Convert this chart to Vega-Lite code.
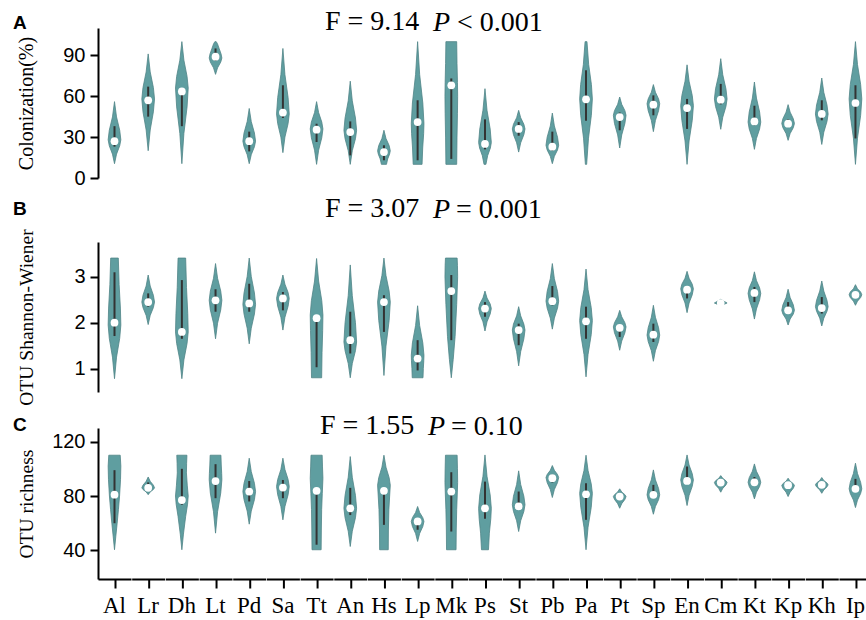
{
  "$schema": "https://vega.github.io/schema/vega-lite/v6.json",
  "padding": {"left": 13, "top": 8, "right": 0, "bottom": 0},
  "spacing": 6,
  "config": {
    "view": {"stroke": null},
    "axis": {"grid": false, "domainColor": "black", "domainWidth": 2, "tickColor": "black", "tickWidth": 2, "labelColor": "black", "titleColor": "black", "labelFont": "Liberation Sans", "labelFontSize": 20, "titleFont": "Liberation Serif", "titleFontSize": 20, "titleFontWeight": "normal"},
    "axisY": {"tickSize": 8, "labelPadding": 5},
    "axisX": {"tickSize": 9},
    "header": {"labelFont": "Liberation Serif", "labelFontSize": 23, "labelColor": "black"},
    "title": {"color": "black", "font": "Liberation Serif", "fontSize": 28, "fontWeight": "normal", "anchor": "start"}
  },
  "datasets": {
    "a": [
      {"s":"Al","v":10.5,"w":0},{"s":"Al","v":17.5,"w":0.32},{"s":"Al","v":23.6,"w":0.82},{"s":"Al","v":28,"w":1},{"s":"Al","v":35,"w":0.82},{"s":"Al","v":44.8,"w":0.32},{"s":"Al","v":56,"w":0},
      {"s":"Lr","v":20,"w":0},{"s":"Lr","v":35.2,"w":0.32},{"s":"Lr","v":48.5,"w":0.82},{"s":"Lr","v":58,"w":1},{"s":"Lr","v":66.3,"w":0.82},{"s":"Lr","v":77.8,"w":0.32},{"s":"Lr","v":91,"w":0},
      {"s":"Dh","v":10.5,"w":0},{"s":"Dh","v":32.7,"w":0.32},{"s":"Dh","v":52.1,"w":0.82},{"s":"Dh","v":66,"w":1},{"s":"Dh","v":74.5,"w":0.82},{"s":"Dh","v":86.4,"w":0.32},{"s":"Dh","v":100,"w":0},
      {"s":"Lt","v":76,"w":0},{"s":"Lt","v":80.8,"w":0.32},{"s":"Lt","v":85,"w":0.82},{"s":"Lt","v":88,"w":1},{"s":"Lt","v":91,"w":0.87},{"s":"Lt","v":95.2,"w":0.55},{"s":"Lt","v":98.5,"w":0.3},{"s":"Lt","v":100,"w":0.1},
      {"s":"Pd","v":10.5,"w":0},{"s":"Pd","v":17.1,"w":0.32},{"s":"Pd","v":22.9,"w":0.82},{"s":"Pd","v":27,"w":1},{"s":"Pd","v":33,"w":0.82},{"s":"Pd","v":41.4,"w":0.32},{"s":"Pd","v":51,"w":0},
      {"s":"Sa","v":18.6,"w":0},{"s":"Sa","v":30,"w":0.32},{"s":"Sa","v":39.9,"w":0.82},{"s":"Sa","v":47,"w":1},{"s":"Sa","v":59,"w":0.82},{"s":"Sa","v":75.8,"w":0.32},{"s":"Sa","v":95,"w":0},
      {"s":"Tt","v":10,"w":0},{"s":"Tt","v":20.4,"w":0.32},{"s":"Tt","v":29.5,"w":0.82},{"s":"Tt","v":36,"w":1},{"s":"Tt","v":41,"w":0.82},{"s":"Tt","v":48,"w":0.32},{"s":"Tt","v":56,"w":0},
      {"s":"An","v":10,"w":0},{"s":"An","v":20,"w":0.32},{"s":"An","v":28.8,"w":0.82},{"s":"An","v":35,"w":1},{"s":"An","v":44,"w":0.82},{"s":"An","v":56.6,"w":0.32},{"s":"An","v":71,"w":0},
      {"s":"Hs","v":10,"w":0.4},{"s":"Hs","v":14,"w":0.59},{"s":"Hs","v":17.5,"w":0.89},{"s":"Hs","v":20,"w":1},{"s":"Hs","v":23.8,"w":0.82},{"s":"Hs","v":29,"w":0.32},{"s":"Hs","v":35,"w":0},
      {"s":"Lp","v":10,"w":0.7},{"s":"Lp","v":22,"w":0.8},{"s":"Lp","v":32.5,"w":0.95},{"s":"Lp","v":40,"w":1},{"s":"Lp","v":55,"w":0.82},{"s":"Lp","v":76,"w":0.32},{"s":"Lp","v":100,"w":0},
      {"s":"Mk","v":10,"w":0.85},{"s":"Mk","v":30,"w":0.9},{"s":"Mk","v":47.5,"w":0.97},{"s":"Mk","v":60,"w":1},{"s":"Mk","v":70,"w":0.97},{"s":"Mk","v":84,"w":0.9},{"s":"Mk","v":100,"w":0.85},
      {"s":"Ps","v":10,"w":0.15},{"s":"Ps","v":16.4,"w":0.42},{"s":"Ps","v":22,"w":0.85},{"s":"Ps","v":26,"w":1},{"s":"Ps","v":35.9,"w":0.82},{"s":"Ps","v":49.7,"w":0.32},{"s":"Ps","v":65.5,"w":0},
      {"s":"St","v":19,"w":0},{"s":"St","v":25.8,"w":0.32},{"s":"St","v":31.8,"w":0.82},{"s":"St","v":36,"w":1},{"s":"St","v":39.4,"w":0.82},{"s":"St","v":44.2,"w":0.32},{"s":"St","v":49.6,"w":0},
      {"s":"Pb","v":10.5,"w":0},{"s":"Pb","v":15.9,"w":0.32},{"s":"Pb","v":20.6,"w":0.82},{"s":"Pb","v":24,"w":1},{"s":"Pb","v":29.9,"w":0.82},{"s":"Pb","v":38.2,"w":0.32},{"s":"Pb","v":47.6,"w":0},
      {"s":"Pa","v":10,"w":0.1},{"s":"Pa","v":29.2,"w":0.39},{"s":"Pa","v":46,"w":0.84},{"s":"Pa","v":58,"w":1},{"s":"Pa","v":68.5,"w":0.85},{"s":"Pa","v":83.2,"w":0.42},{"s":"Pa","v":100,"w":0.15},
      {"s":"Pt","v":22,"w":0},{"s":"Pt","v":31.6,"w":0.32},{"s":"Pt","v":40,"w":0.82},{"s":"Pt","v":46,"w":1},{"s":"Pt","v":49.4,"w":0.82},{"s":"Pt","v":54,"w":0.32},{"s":"Pt","v":59.4,"w":0},
      {"s":"Sp","v":34,"w":0},{"s":"Sp","v":42.2,"w":0.32},{"s":"Sp","v":49.4,"w":0.82},{"s":"Sp","v":54.5,"w":1},{"s":"Sp","v":58,"w":0.82},{"s":"Sp","v":62.9,"w":0.32},{"s":"Sp","v":68.5,"w":0},
      {"s":"En","v":10,"w":0},{"s":"En","v":27.2,"w":0.32},{"s":"En","v":42.3,"w":0.82},{"s":"En","v":53,"w":1},{"s":"En","v":60.5,"w":0.82},{"s":"En","v":71,"w":0.32},{"s":"En","v":83,"w":0},
      {"s":"Cm","v":35.7,"w":0},{"s":"Cm","v":44.6,"w":0.32},{"s":"Cm","v":52.4,"w":0.82},{"s":"Cm","v":58,"w":1},{"s":"Cm","v":65.4,"w":0.82},{"s":"Cm","v":75.7,"w":0.32},{"s":"Cm","v":87.5,"w":0},
      {"s":"Kt","v":21,"w":0},{"s":"Kt","v":29,"w":0.32},{"s":"Kt","v":36,"w":0.82},{"s":"Kt","v":41,"w":1},{"s":"Kt","v":48.4,"w":0.82},{"s":"Kt","v":58.6,"w":0.32},{"s":"Kt","v":70.4,"w":0},
      {"s":"Kp","v":27.6,"w":0},{"s":"Kp","v":32.6,"w":0.32},{"s":"Kp","v":36.9,"w":0.82},{"s":"Kp","v":40,"w":1},{"s":"Kp","v":43.5,"w":0.82},{"s":"Kp","v":48.3,"w":0.32},{"s":"Kp","v":53.8,"w":0},
      {"s":"Kh","v":24.6,"w":0},{"s":"Kh","v":33.6,"w":0.32},{"s":"Kh","v":41.4,"w":0.82},{"s":"Kh","v":47,"w":1},{"s":"Kh","v":53.6,"w":0.82},{"s":"Kh","v":62.8,"w":0.32},{"s":"Kh","v":73.3,"w":0},
      {"s":"Ip","v":10,"w":0},{"s":"Ip","v":29.2,"w":0.32},{"s":"Ip","v":46,"w":0.82},{"s":"Ip","v":58,"w":1},{"s":"Ip","v":68.5,"w":0.82},{"s":"Ip","v":83.2,"w":0.32},{"s":"Ip","v":100,"w":0},
      {"s":"Al","med":27,"q1":23,"q3":38},{"s":"Lr","med":57,"q1":45,"q3":67},{"s":"Dh","med":63.5,"q1":38,"q3":66},{"s":"Lt","med":89,"q1":86,"q3":95},{"s":"Pd","med":27,"q1":19.5,"q3":34},{"s":"Sa","med":48,"q1":44,"q3":68},{"s":"Tt","med":35.4,"q1":26.4,"q3":39.8},{"s":"An","med":33.7,"q1":16.6,"q3":41.5},{"s":"Hs","med":19,"q1":13,"q3":24},{"s":"Lp","med":41,"q1":13,"q3":57},{"s":"Mk","med":68,"q1":14,"q3":73},{"s":"Ps","med":25,"q1":21,"q3":43},{"s":"St","med":36,"q1":31,"q3":41},{"s":"Pb","med":23,"q1":20,"q3":34},{"s":"Pa","med":57.7,"q1":42,"q3":79},{"s":"Pt","med":44.7,"q1":35,"q3":48},{"s":"Sp","med":53.8,"q1":46,"q3":60.6},{"s":"En","med":51.3,"q1":36,"q3":58},{"s":"Cm","med":57.4,"q1":54,"q3":69},{"s":"Kt","med":41.5,"q1":38.6,"q3":53},{"s":"Kp","med":39.8,"q1":37.8,"q3":43},{"s":"Kh","med":47,"q1":42.3,"q3":57},{"s":"Ip","med":55,"q1":29,"q3":68}
    ],
    "b": [
      {"s":"Al","v":0.78,"w":0},{"s":"Al","v":1.25,"w":0.32},{"s":"Al","v":1.66,"w":0.82},{"s":"Al","v":1.95,"w":1},{"s":"Al","v":2.32,"w":0.93},{"s":"Al","v":2.83,"w":0.73},{"s":"Al","v":3.41,"w":0.6},
      {"s":"Lr","v":1.96,"w":0},{"s":"Lr","v":2.16,"w":0.32},{"s":"Lr","v":2.33,"w":0.82},{"s":"Lr","v":2.45,"w":1},{"s":"Lr","v":2.6,"w":0.82},{"s":"Lr","v":2.8,"w":0.32},{"s":"Lr","v":3.04,"w":0},
      {"s":"Dh","v":0.78,"w":0},{"s":"Dh","v":1.19,"w":0.32},{"s":"Dh","v":1.55,"w":0.82},{"s":"Dh","v":1.8,"w":1},{"s":"Dh","v":2.2,"w":0.93},{"s":"Dh","v":2.77,"w":0.73},{"s":"Dh","v":3.41,"w":0.6},
      {"s":"Lt","v":1.65,"w":0},{"s":"Lt","v":1.99,"w":0.32},{"s":"Lt","v":2.28,"w":0.82},{"s":"Lt","v":2.49,"w":1},{"s":"Lt","v":2.69,"w":0.82},{"s":"Lt","v":2.97,"w":0.32},{"s":"Lt","v":3.29,"w":0},
      {"s":"Pd","v":1.54,"w":0},{"s":"Pd","v":1.88,"w":0.32},{"s":"Pd","v":2.19,"w":0.82},{"s":"Pd","v":2.4,"w":1},{"s":"Pd","v":2.65,"w":0.82},{"s":"Pd","v":3.01,"w":0.32},{"s":"Pd","v":3.41,"w":0},
      {"s":"Sa","v":1.84,"w":0},{"s":"Sa","v":2.12,"w":0.32},{"s":"Sa","v":2.36,"w":0.82},{"s":"Sa","v":2.53,"w":1},{"s":"Sa","v":2.66,"w":0.82},{"s":"Sa","v":2.84,"w":0.32},{"s":"Sa","v":3.04,"w":0},
      {"s":"Tt","v":0.8,"w":0.8},{"s":"Tt","v":1.35,"w":0.86},{"s":"Tt","v":1.83,"w":0.96},{"s":"Tt","v":2.17,"w":1},{"s":"Tt","v":2.48,"w":0.82},{"s":"Tt","v":2.91,"w":0.32},{"s":"Tt","v":3.4,"w":0},
      {"s":"An","v":0.8,"w":0},{"s":"An","v":1.11,"w":0.32},{"s":"An","v":1.39,"w":0.82},{"s":"An","v":1.58,"w":1},{"s":"An","v":2.0,"w":0.82},{"s":"An","v":2.59,"w":0.32},{"s":"An","v":3.26,"w":0},
      {"s":"Hs","v":0.85,"w":0},{"s":"Hs","v":1.49,"w":0.32},{"s":"Hs","v":2.05,"w":0.82},{"s":"Hs","v":2.45,"w":1},{"s":"Hs","v":2.69,"w":0.82},{"s":"Hs","v":3.03,"w":0.32},{"s":"Hs","v":3.41,"w":0},
      {"s":"Lp","v":0.8,"w":0.85},{"s":"Lp","v":1.0,"w":0.9},{"s":"Lp","v":1.17,"w":0.97},{"s":"Lp","v":1.29,"w":1},{"s":"Lp","v":1.56,"w":0.82},{"s":"Lp","v":1.94,"w":0.32},{"s":"Lp","v":2.37,"w":0},
      {"s":"Mk","v":0.8,"w":0},{"s":"Mk","v":1.2,"w":0.3},{"s":"Mk","v":1.7,"w":0.6},{"s":"Mk","v":2.4,"w":0.85},{"s":"Mk","v":3.0,"w":1},{"s":"Mk","v":3.25,"w":0.97},{"s":"Mk","v":3.41,"w":0.92},
      {"s":"Ps","v":1.82,"w":0},{"s":"Ps","v":2.02,"w":0.32},{"s":"Ps","v":2.19,"w":0.82},{"s":"Ps","v":2.31,"w":1},{"s":"Ps","v":2.41,"w":0.82},{"s":"Ps","v":2.54,"w":0.32},{"s":"Ps","v":2.69,"w":0},
      {"s":"St","v":1.06,"w":0},{"s":"St","v":1.37,"w":0.32},{"s":"St","v":1.65,"w":0.82},{"s":"St","v":1.84,"w":1},{"s":"St","v":1.97,"w":0.82},{"s":"St","v":2.15,"w":0.32},{"s":"St","v":2.35,"w":0},
      {"s":"Pb","v":1.86,"w":0},{"s":"Pb","v":2.1,"w":0.32},{"s":"Pb","v":2.32,"w":0.82},{"s":"Pb","v":2.47,"w":1},{"s":"Pb","v":2.68,"w":0.82},{"s":"Pb","v":2.96,"w":0.32},{"s":"Pb","v":3.29,"w":0},
      {"s":"Pa","v":0.82,"w":0},{"s":"Pa","v":1.31,"w":0.32},{"s":"Pa","v":1.74,"w":0.82},{"s":"Pa","v":2.05,"w":1},{"s":"Pa","v":2.33,"w":0.82},{"s":"Pa","v":2.72,"w":0.32},{"s":"Pa","v":3.17,"w":0},
      {"s":"Pt","v":1.4,"w":0},{"s":"Pt","v":1.6,"w":0.32},{"s":"Pt","v":1.78,"w":0.82},{"s":"Pt","v":1.91,"w":1},{"s":"Pt","v":2.0,"w":0.82},{"s":"Pt","v":2.13,"w":0.32},{"s":"Pt","v":2.27,"w":0},
      {"s":"Sp","v":1.16,"w":0},{"s":"Sp","v":1.39,"w":0.32},{"s":"Sp","v":1.59,"w":0.82},{"s":"Sp","v":1.73,"w":1},{"s":"Sp","v":1.89,"w":0.82},{"s":"Sp","v":2.12,"w":0.32},{"s":"Sp","v":2.38,"w":0},
      {"s":"En","v":2.22,"w":0},{"s":"En","v":2.43,"w":0.32},{"s":"En","v":2.61,"w":0.82},{"s":"En","v":2.74,"w":1},{"s":"En","v":2.84,"w":0.82},{"s":"En","v":2.97,"w":0.32},{"s":"En","v":3.12,"w":0},
      {"s":"Cm","v":2.37,"w":0},{"s":"Cm","v":2.4,"w":0.5},{"s":"Cm","v":2.43,"w":1},{"s":"Cm","v":2.47,"w":0.5},{"s":"Cm","v":2.51,"w":0},
      {"s":"Kt","v":2.08,"w":0},{"s":"Kt","v":2.3,"w":0.32},{"s":"Kt","v":2.5,"w":0.82},{"s":"Kt","v":2.64,"w":1},{"s":"Kt","v":2.76,"w":0.82},{"s":"Kt","v":2.92,"w":0.32},{"s":"Kt","v":3.11,"w":0},
      {"s":"Kp","v":1.95,"w":0},{"s":"Kp","v":2.08,"w":0.32},{"s":"Kp","v":2.19,"w":0.82},{"s":"Kp","v":2.27,"w":1},{"s":"Kp","v":2.39,"w":0.82},{"s":"Kp","v":2.55,"w":0.32},{"s":"Kp","v":2.73,"w":0},
      {"s":"Kh","v":1.93,"w":0},{"s":"Kh","v":2.1,"w":0.32},{"s":"Kh","v":2.25,"w":0.82},{"s":"Kh","v":2.35,"w":1},{"s":"Kh","v":2.49,"w":0.82},{"s":"Kh","v":2.69,"w":0.32},{"s":"Kh","v":2.91,"w":0},
      {"s":"Ip","v":2.38,"w":0},{"s":"Ip","v":2.47,"w":0.32},{"s":"Ip","v":2.55,"w":0.82},{"s":"Ip","v":2.61,"w":1},{"s":"Ip","v":2.67,"w":0.82},{"s":"Ip","v":2.74,"w":0.32},{"s":"Ip","v":2.83,"w":0},
      {"s":"Al","med":2.0,"q1":1.71,"q3":3.1},{"s":"Lr","med":2.45,"q1":2.35,"q3":2.64},{"s":"Dh","med":1.8,"q1":1.65,"q3":2.93},{"s":"Lt","med":2.49,"q1":2.24,"q3":2.73},{"s":"Pd","med":2.42,"q1":2.24,"q3":2.85},{"s":"Sa","med":2.53,"q1":2.27,"q3":2.67},{"s":"Tt","med":2.1,"q1":1.03,"q3":2.15},{"s":"An","med":1.62,"q1":1.33,"q3":2.24},{"s":"Hs","med":2.45,"q1":1.8,"q3":2.6},{"s":"Lp","med":1.22,"q1":0.96,"q3":1.62},{"s":"Mk","med":2.69,"q1":1.62,"q3":3.04},{"s":"Ps","med":2.31,"q1":2.13,"q3":2.45},{"s":"St","med":1.84,"q1":1.51,"q3":1.98},{"s":"Pb","med":2.47,"q1":2.38,"q3":2.8},{"s":"Pa","med":2.03,"q1":1.65,"q3":2.35},{"s":"Pt","med":1.89,"q1":1.69,"q3":1.95},{"s":"Sp","med":1.74,"q1":1.58,"q3":1.98},{"s":"En","med":2.72,"q1":2.53,"q3":2.78},{"s":"Cm","med":2.43,"q1":2.42,"q3":2.44},{"s":"Kt","med":2.65,"q1":2.45,"q3":2.78},{"s":"Kp","med":2.27,"q1":2.2,"q3":2.45},{"s":"Kh","med":2.32,"q1":2.2,"q3":2.56},{"s":"Ip","med":2.61,"q1":2.58,"q3":2.64}
    ],
    "c": [
      {"s":"Al","v":40.5,"w":0},{"s":"Al","v":50,"w":0.2},{"s":"Al","v":60,"w":0.42},{"s":"Al","v":70,"w":0.62},{"s":"Al","v":80,"w":0.8},{"s":"Al","v":92,"w":0.95},{"s":"Al","v":102,"w":1},{"s":"Al","v":110,"w":0.9},
      {"s":"Lr","v":81,"w":0},{"s":"Lr","v":83,"w":0.32},{"s":"Lr","v":84.8,"w":0.82},{"s":"Lr","v":86,"w":1},{"s":"Lr","v":88,"w":0.82},{"s":"Lr","v":90.8,"w":0.32},{"s":"Lr","v":94,"w":0},
      {"s":"Dh","v":40.5,"w":0},{"s":"Dh","v":52,"w":0.25},{"s":"Dh","v":65,"w":0.6},{"s":"Dh","v":74,"w":0.9},{"s":"Dh","v":80,"w":1},{"s":"Dh","v":88,"w":0.85},{"s":"Dh","v":97,"w":0.72},{"s":"Dh","v":104,"w":0.75},{"s":"Dh","v":110,"w":0.8},
      {"s":"Lt","v":52.7,"w":0},{"s":"Lt","v":68.4,"w":0.32},{"s":"Lt","v":82.2,"w":0.82},{"s":"Lt","v":92,"w":1},{"s":"Lt","v":96.5,"w":0.97},{"s":"Lt","v":102.8,"w":0.9},{"s":"Lt","v":110,"w":0.85},
      {"s":"Pd","v":59.3,"w":0},{"s":"Pd","v":68.9,"w":0.32},{"s":"Pd","v":77.3,"w":0.82},{"s":"Pd","v":83.3,"w":1},{"s":"Pd","v":89.4,"w":0.82},{"s":"Pd","v":98,"w":0.32},{"s":"Pd","v":107.8,"w":0},
      {"s":"Sa","v":62.5,"w":0},{"s":"Sa","v":72.3,"w":0.32},{"s":"Sa","v":80.9,"w":0.82},{"s":"Sa","v":87,"w":1},{"s":"Sa","v":92.2,"w":0.82},{"s":"Sa","v":99.5,"w":0.32},{"s":"Sa","v":107.8,"w":0},
      {"s":"Tt","v":40.5,"w":0.72},{"s":"Tt","v":55,"w":0.75},{"s":"Tt","v":70,"w":0.8},{"s":"Tt","v":82,"w":0.9},{"s":"Tt","v":93,"w":1},{"s":"Tt","v":102,"w":0.93},{"s":"Tt","v":110,"w":0.88},
      {"s":"An","v":42.9,"w":0},{"s":"An","v":54.1,"w":0.32},{"s":"An","v":64,"w":0.82},{"s":"An","v":71,"w":1},{"s":"An","v":80.5,"w":0.82},{"s":"An","v":93.8,"w":0.32},{"s":"An","v":109,"w":0},
      {"s":"Hs","v":40.5,"w":0.68},{"s":"Hs","v":55,"w":0.7},{"s":"Hs","v":70,"w":0.78},{"s":"Hs","v":80,"w":0.9},{"s":"Hs","v":88,"w":1},{"s":"Hs","v":93.5,"w":0.82},{"s":"Hs","v":101.2,"w":0.32},{"s":"Hs","v":110,"w":0},
      {"s":"Lp","v":46.6,"w":0},{"s":"Lp","v":52.5,"w":0.32},{"s":"Lp","v":57.6,"w":0.82},{"s":"Lp","v":61.3,"w":1},{"s":"Lp","v":64.1,"w":0.82},{"s":"Lp","v":67.9,"w":0.32},{"s":"Lp","v":72.3,"w":0},
      {"s":"Mk","v":40.5,"w":0.75},{"s":"Mk","v":55,"w":0.78},{"s":"Mk","v":70,"w":0.85},{"s":"Mk","v":80,"w":0.93},{"s":"Mk","v":90,"w":1},{"s":"Mk","v":100,"w":0.97},{"s":"Mk","v":110,"w":0.92},
      {"s":"Ps","v":40.5,"w":0.55},{"s":"Ps","v":52.7,"w":0.69},{"s":"Ps","v":63.4,"w":0.92},{"s":"Ps","v":71,"w":1},{"s":"Ps","v":80.8,"w":0.82},{"s":"Ps","v":94.5,"w":0.32},{"s":"Ps","v":110.2,"w":0},
      {"s":"St","v":53.9,"w":0},{"s":"St","v":61.8,"w":0.32},{"s":"St","v":68.7,"w":0.82},{"s":"St","v":73.6,"w":1},{"s":"St","v":79.8,"w":0.82},{"s":"St","v":88.5,"w":0.32},{"s":"St","v":98.5,"w":0},
      {"s":"Pb","v":78.9,"w":0},{"s":"Pb","v":84.8,"w":0.32},{"s":"Pb","v":89.9,"w":0.82},{"s":"Pb","v":93.6,"w":1},{"s":"Pb","v":95.8,"w":0.82},{"s":"Pb","v":98.9,"w":0.32},{"s":"Pb","v":102.4,"w":0},
      {"s":"Pa","v":40.5,"w":0},{"s":"Pa","v":57.1,"w":0.32},{"s":"Pa","v":71.6,"w":0.82},{"s":"Pa","v":82,"w":1},{"s":"Pa","v":89,"w":0.82},{"s":"Pa","v":98.8,"w":0.32},{"s":"Pa","v":110,"w":0},
      {"s":"Pt","v":71,"w":0},{"s":"Pt","v":74.4,"w":0.32},{"s":"Pt","v":77.5,"w":0.82},{"s":"Pt","v":79.6,"w":1},{"s":"Pt","v":81,"w":0.82},{"s":"Pt","v":83,"w":0.32},{"s":"Pt","v":85.3,"w":0},
      {"s":"Sp","v":66.6,"w":0},{"s":"Sp","v":72.3,"w":0.32},{"s":"Sp","v":77.3,"w":0.82},{"s":"Sp","v":80.9,"w":1},{"s":"Sp","v":85.5,"w":0.82},{"s":"Sp","v":91.9,"w":0.32},{"s":"Sp","v":99.2,"w":0},
      {"s":"En","v":73,"w":0},{"s":"En","v":80.5,"w":0.32},{"s":"En","v":87.1,"w":0.82},{"s":"En","v":91.8,"w":1},{"s":"En","v":96.4,"w":0.82},{"s":"En","v":102.8,"w":0.32},{"s":"En","v":110.2,"w":0},
      {"s":"Cm","v":82.8,"w":0},{"s":"Cm","v":85.6,"w":0.32},{"s":"Cm","v":88.1,"w":0.82},{"s":"Cm","v":89.9,"w":1},{"s":"Cm","v":91.2,"w":0.82},{"s":"Cm","v":93,"w":0.32},{"s":"Cm","v":95,"w":0},
      {"s":"Kt","v":77.9,"w":0},{"s":"Kt","v":82.8,"w":0.32},{"s":"Kt","v":87,"w":0.82},{"s":"Kt","v":90.1,"w":1},{"s":"Kt","v":93.5,"w":0.82},{"s":"Kt","v":98.2,"w":0.32},{"s":"Kt","v":103.6,"w":0},
      {"s":"Kp","v":79.6,"w":0},{"s":"Kp","v":82.8,"w":0.32},{"s":"Kp","v":85.7,"w":0.82},{"s":"Kp","v":87.7,"w":1},{"s":"Kp","v":89.1,"w":0.82},{"s":"Kp","v":90.9,"w":0.32},{"s":"Kp","v":93.1,"w":0},
      {"s":"Kh","v":82,"w":0},{"s":"Kh","v":84.5,"w":0.32},{"s":"Kh","v":86.7,"w":0.82},{"s":"Kh","v":88.2,"w":1},{"s":"Kh","v":89.6,"w":0.82},{"s":"Kh","v":91.4,"w":0.32},{"s":"Kh","v":93.6,"w":0},
      {"s":"Ip","v":71.5,"w":0},{"s":"Ip","v":77,"w":0.32},{"s":"Ip","v":81.9,"w":0.82},{"s":"Ip","v":85.3,"w":1},{"s":"Ip","v":90,"w":0.82},{"s":"Ip","v":96.6,"w":0.32},{"s":"Ip","v":104.1,"w":0},
      {"s":"Al","med":81,"q1":60,"q3":99},{"s":"Lr","med":86,"q1":84,"q3":90},{"s":"Dh","med":77,"q1":73.6,"q3":100},{"s":"Lt","med":91,"q1":78.4,"q3":103.4},{"s":"Pd","med":83.3,"q1":76,"q3":91},{"s":"Sa","med":86.2,"q1":78.4,"q3":91.8},{"s":"Tt","med":83.8,"q1":44.2,"q3":85},{"s":"An","med":71,"q1":66,"q3":86},{"s":"Hs","med":83.8,"q1":58.8,"q3":86},{"s":"Lp","med":61.3,"q1":55.2,"q3":62},{"s":"Mk","med":83.3,"q1":53.9,"q3":97.5},{"s":"Ps","med":71,"q1":63.3,"q3":90.6},{"s":"St","med":72.3,"q1":70,"q3":83.3},{"s":"Pb","med":93.1,"q1":90,"q3":95.7},{"s":"Pa","med":81.3,"q1":62.5,"q3":89.4},{"s":"Pt","med":79.6,"q1":78.5,"q3":80.5},{"s":"Sp","med":80.9,"q1":79,"q3":88.2},{"s":"En","med":91.1,"q1":90,"q3":101.7},{"s":"Cm","med":89.9,"q1":89,"q3":91},{"s":"Kt","med":90.1,"q1":88,"q3":94},{"s":"Kp","med":88,"q1":86,"q3":89},{"s":"Kh","med":88.2,"q1":87,"q3":89.5},{"s":"Ip","med":85.3,"q1":84,"q3":92.6}
    ]
  },
  "vconcat": [
    {
      "title": {"text": "A", "frame": "bounds", "font": "Liberation Sans", "fontSize": 19, "fontWeight": "bold", "dx": -3, "dy": 29},
      "vconcat": [{
        "title": {"text": "< 0.001", "frame": "bounds", "dx": 441, "dy": 33},
        "vconcat": [{
          "title": {"text": "P", "frame": "bounds", "fontStyle": "italic", "dx": 417, "dy": 33},
          "vconcat": [{
            "data": {"name": "a"},
            "title": {"text": "F = 9.14", "frame": "group", "dx": 227, "dy": 12},
            "facet": {"column": {"field": "s", "type": "nominal", "title": null, "sort": ["Al","Lr","Dh","Lt","Pd","Sa","Tt","An","Hs","Lp","Mk","Ps","St","Pb","Pa","Pt","Sp","En","Cm","Kt","Kp","Kh","Ip"], "header": {"labels": false, "title": null}}},
            "spacing": {"column": 0.68},
            "spec": {
              "width": 33, "height": 150,
              "layer": [
                {"transform": [{"filter": {"field": "w", "valid": true}}],
                 "mark": {"type": "area", "orient": "horizontal", "fill": "#5F9EA0", "stroke": "#4f8486", "strokeWidth": 0.8},
                 "encoding": {
                   "y": {"field": "v", "type": "quantitative", "title": "Colonization(%)", "scale": {"domain": [0, 110], "nice": false, "zero": false}, "axis": {"values": [0, 30, 60, 90], "titleX": -62, "titleFontSize": 20}},
                   "x": {"field": "w", "type": "quantitative", "stack": "center", "impute": null, "scale": {"domain": [-0.68, 1.68]}, "axis": null}}},
                {"transform": [{"filter": {"field": "med", "valid": true}}],
                 "mark": {"type": "rule", "color": "#333333", "strokeWidth": 2},
                 "encoding": {
                   "y": {"field": "q1", "type": "quantitative", "title": "Colonization(%)", "scale": {"domain": [0, 110], "nice": false, "zero": false}, "axis": {"values": [0, 30, 60, 90], "titleX": -62, "titleFontSize": 20}},
                   "y2": {"field": "q3"},
                   "x": {"datum": 0.5, "type": "quantitative", "axis": null}}},
                {"transform": [{"filter": {"field": "med", "valid": true}}],
                 "mark": {"type": "point", "shape": "circle", "filled": true, "color": "white", "opacity": 1, "size": 60},
                 "encoding": {
                   "y": {"field": "med", "type": "quantitative", "title": "Colonization(%)", "scale": {"domain": [0, 110], "nice": false, "zero": false}, "axis": {"values": [0, 30, 60, 90], "titleX": -62, "titleFontSize": 20}},
                   "x": {"datum": 0.5, "type": "quantitative", "axis": null}}}
              ]
            }
          }]
        }]
      }]
    },
    {
      "title": {"text": "B", "frame": "bounds", "font": "Liberation Sans", "fontSize": 19, "fontWeight": "bold", "dx": -3, "dy": 28},
      "vconcat": [{
        "title": {"text": "= 0.001", "frame": "bounds", "dx": 440, "dy": 33},
        "vconcat": [{
          "title": {"text": "P", "frame": "bounds", "fontStyle": "italic", "dx": 417, "dy": 33},
          "vconcat": [{
            "data": {"name": "b"},
            "title": {"text": "F = 3.07", "frame": "group", "dx": 227, "dy": -2},
            "facet": {"column": {"field": "s", "type": "nominal", "title": null, "sort": ["Al","Lr","Dh","Lt","Pd","Sa","Tt","An","Hs","Lp","Mk","Ps","St","Pb","Pa","Pt","Sp","En","Cm","Kt","Kp","Kh","Ip"], "header": {"labels": false, "title": null}}},
            "spacing": {"column": 0.68},
            "spec": {
              "width": 33, "height": 150,
              "layer": [
                {"transform": [{"filter": {"field": "w", "valid": true}}],
                 "mark": {"type": "area", "orient": "horizontal", "fill": "#5F9EA0", "stroke": "#4f8486", "strokeWidth": 0.8},
                 "encoding": {
                   "y": {"field": "v", "type": "quantitative", "title": "OTU Shannon-Wiener", "scale": {"domain": [0.49, 3.76], "nice": false, "zero": false}, "axis": {"values": [1, 2, 3], "titleX": -62, "titleFontSize": 19.5}},
                   "x": {"field": "w", "type": "quantitative", "stack": "center", "impute": null, "scale": {"domain": [-0.68, 1.68]}, "axis": null}}},
                {"transform": [{"filter": {"field": "med", "valid": true}}],
                 "mark": {"type": "rule", "color": "#333333", "strokeWidth": 2},
                 "encoding": {
                   "y": {"field": "q1", "type": "quantitative", "title": "OTU Shannon-Wiener", "scale": {"domain": [0.49, 3.76], "nice": false, "zero": false}, "axis": {"values": [1, 2, 3], "titleX": -62, "titleFontSize": 19.5}},
                   "y2": {"field": "q3"},
                   "x": {"datum": 0.5, "type": "quantitative", "axis": null}}},
                {"transform": [{"filter": {"field": "med", "valid": true}}],
                 "mark": {"type": "point", "shape": "circle", "filled": true, "color": "white", "opacity": 1, "size": 60},
                 "encoding": {
                   "y": {"field": "med", "type": "quantitative", "title": "OTU Shannon-Wiener", "scale": {"domain": [0.49, 3.76], "nice": false, "zero": false}, "axis": {"values": [1, 2, 3], "titleX": -62, "titleFontSize": 19.5}},
                   "x": {"datum": 0.5, "type": "quantitative", "axis": null}}}
              ]
            }
          }]
        }]
      }]
    },
    {
      "title": {"text": "C", "frame": "bounds", "font": "Liberation Sans", "fontSize": 19, "fontWeight": "bold", "dx": -3, "dy": 27},
      "vconcat": [{
        "title": {"text": "= 0.10", "frame": "bounds", "dx": 435, "dy": 33},
        "vconcat": [{
          "title": {"text": "P", "frame": "bounds", "fontStyle": "italic", "dx": 412, "dy": 33},
          "vconcat": [{
            "data": {"name": "c"},
            "title": {"text": "F = 1.55", "frame": "group", "dx": 222, "dy": 16},
            "facet": {"column": {"field": "s", "type": "nominal", "title": null, "sort": ["Al","Lr","Dh","Lt","Pd","Sa","Tt","An","Hs","Lp","Mk","Ps","St","Pb","Pa","Pt","Sp","En","Cm","Kt","Kp","Kh","Ip"], "header": {"labelOrient": "bottom", "title": null, "labelPadding": 6}}},
            "spacing": {"column": 0.68},
            "spec": {
              "width": 33, "height": 151,
              "layer": [
                {"transform": [{"filter": {"field": "w", "valid": true}}],
                 "mark": {"type": "area", "orient": "horizontal", "fill": "#5F9EA0", "stroke": "#4f8486", "strokeWidth": 0.8},
                 "encoding": {
                   "y": {"field": "v", "type": "quantitative", "title": "OTU richness", "scale": {"domain": [19, 130], "nice": false, "zero": false}, "axis": {"values": [40, 80, 120], "titleX": -62, "titleFontSize": 19.5}},
                   "x": {"field": "w", "type": "quantitative", "stack": "center", "impute": null, "scale": {"domain": [-0.68, 1.68]}, "axis": {"values": [0.5], "labels": false, "title": null}}}},
                {"transform": [{"filter": {"field": "med", "valid": true}}],
                 "mark": {"type": "rule", "color": "#333333", "strokeWidth": 2},
                 "encoding": {
                   "y": {"field": "q1", "type": "quantitative", "title": "OTU richness", "scale": {"domain": [19, 130], "nice": false, "zero": false}, "axis": {"values": [40, 80, 120], "titleX": -62, "titleFontSize": 19.5}},
                   "y2": {"field": "q3"},
                   "x": {"datum": 0.5, "type": "quantitative", "axis": {"values": [0.5], "labels": false, "title": null}}}},
                {"transform": [{"filter": {"field": "med", "valid": true}}],
                 "mark": {"type": "point", "shape": "circle", "filled": true, "color": "white", "opacity": 1, "size": 60},
                 "encoding": {
                   "y": {"field": "med", "type": "quantitative", "title": "OTU richness", "scale": {"domain": [19, 130], "nice": false, "zero": false}, "axis": {"values": [40, 80, 120], "titleX": -62, "titleFontSize": 19.5}},
                   "x": {"datum": 0.5, "type": "quantitative", "axis": {"values": [0.5], "labels": false, "title": null}}}}
              ]
            }
          }]
        }]
      }]
    }
  ]
}
